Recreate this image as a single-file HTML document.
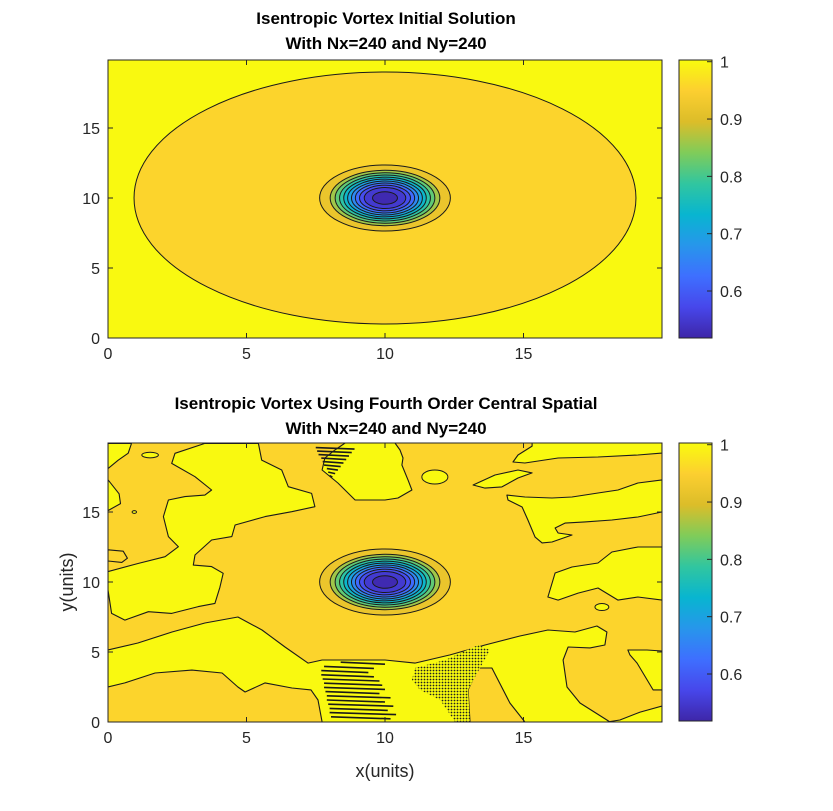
<!DOCTYPE html>
<html><head><meta charset="utf-8"><style>
html,body{margin:0;padding:0;background:#fff;}
svg{display:block;font-family:"Liberation Sans",Arial,sans-serif;}
</style></head><body>
<svg id="fig" width="833" height="811" viewBox="0 0 833 811" xmlns="http://www.w3.org/2000/svg">
<defs>
<linearGradient id="parula" x1="0" y1="1" x2="0" y2="0">
<stop offset="0" stop-color="#3e26a8"/><stop offset="0.111" stop-color="#4747eb"/><stop offset="0.222" stop-color="#3e6fff"/>
<stop offset="0.333" stop-color="#2796eb"/><stop offset="0.444" stop-color="#08b5d0"/><stop offset="0.556" stop-color="#31c69f"/>
<stop offset="0.667" stop-color="#80cc59"/><stop offset="0.778" stop-color="#dcbd29"/><stop offset="0.889" stop-color="#fccf30"/>
<stop offset="1" stop-color="#f9fb0e"/></linearGradient>
<clipPath id="clipTop"><rect x="108" y="60" width="554" height="278"/></clipPath>
<clipPath id="clipBot"><rect x="108" y="443" width="554" height="279"/></clipPath>
<pattern id="dots" width="3" height="3" patternUnits="userSpaceOnUse"><rect width="3" height="3" fill="#f9fb0e"/><circle cx="1.5" cy="1.5" r="0.9" fill="#222"/></pattern>
</defs>
<g id="top"></g>
<g id="bot"></g>
<g id="cbars"></g>
<text x="386" y="24" text-anchor="middle" font-size="17" font-weight="bold" fill="#000">Isentropic Vortex Initial Solution</text>
<text x="386" y="49" text-anchor="middle" font-size="17" font-weight="bold" fill="#000">With Nx=240 and Ny=240</text>
<text x="386" y="409" text-anchor="middle" font-size="17" font-weight="bold" fill="#000">Isentropic Vortex Using Fourth Order Central Spatial</text>
<text x="386" y="434" text-anchor="middle" font-size="17" font-weight="bold" fill="#000">With Nx=240 and Ny=240</text>
<text x="385" y="777" text-anchor="middle" font-size="18" fill="#262626">x(units)</text>
<text x="0" y="0" transform="translate(73,582) rotate(-90)" text-anchor="middle" font-size="18" fill="#262626">y(units)</text>
</svg>
<script>
const xTicks=[0,5,10,15];
const yTicks=[0,5,10,15];
const cbTicks=[0.6,0.7,0.8,0.9,1];
const cMin=0.518, cMax=1.003;
const vortexCenter=[10,10];
const ringRadii=[2.36,1.98,1.80,1.64,1.49,1.35,1.21,1.07,0.92,0.75,0.45];
const ringValues=[0.92,0.86,0.82,0.78,0.74,0.70,0.66,0.62,0.58,0.55,0.525];
const bigRadius=[9.06,9.0];
const baseValue=0.955;
const blobY1=[[3.5,19.9],[5.43,19.9],[5.55,18.71],[6.27,18.0],[6.51,16.81],[7.35,16.33],[7.47,15.38],[6.63,15.02],[5.67,14.67],[4.59,14.07],[4.47,13.24],[3.74,13.0],[3.14,11.93],[3.08,11.21],[3.74,11.1],[4.16,10.62],[4.04,9.62],[3.86,8.47],[3.26,8.24],[2.3,7.76],[1.46,7.88],[0.61,7.28],[0.13,7.76],[0,9.43],[0,10.74],[1.1,11.33],[2.06,11.81],[2.54,12.52],[2.18,13.24],[2.0,14.67],[2.18,15.86],[2.78,16.1],[3.5,16.21],[3.74,16.57],[3.14,17.52],[2.3,18.47],[2.42,19.19]];
const blobCorner=[[0,19.9],[0.85,19.9],[0.73,19.2],[0.37,18.7],[0,18.1]];
const blobLeftStrip=[[0,17.3],[0.4,16.3],[0.45,15.6],[0,15.1]];
const blobBC=[[0,5.14],[1.08,5.64],[2.31,6.43],[3.5,7.07],[4.69,7.5],[5.56,6.57],[6.39,5.36],[7.22,4.21],[7.73,4.43],[10.0,4.43],[11.08,4.21],[12.35,4.79],[13.61,5.5],[14.87,6.14],[15.88,6.57],[16.86,6.43],[17.65,6.86],[18.01,6.43],[17.94,5.5],[17.4,5.29],[16.61,5.36],[16.43,4.43],[16.57,2.5],[17.04,1.36],[18.01,0.14],[18.12,0],[15.05,0],[14.51,1.36],[13.86,3.86],[13.36,3.86],[13.0,2.29],[13.07,0],[7.73,0],[7.58,1.57],[7.33,2.29],[6.64,2.43],[5.67,2.79],[4.95,2.14],[4.69,2.5],[4.12,3.5],[3.03,3.71],[1.7,3.5],[0.61,2.79],[0,2.5]];
const blobRLobe=[[18.77,5.14],[19.46,5.14],[20,5.07],[20,2.29],[19.68,2.29],[19.1,4.21],[18.84,4.79]];
const blobRBottom=[[18.01,0],[18.48,0.14],[19.21,0.71],[20,1.14],[20,0]];
const blobR1=[[15.31,19.71],[14.8,19.07],[14.62,18.57],[15.05,18.5],[16.25,18.86],[17.69,18.93],[19.13,19.07],[20,19.21],[20,19.93],[15.31,19.93]];
const blobR2=[[13.18,16.93],[13.97,17.64],[14.8,18.0],[15.31,17.79],[14.8,17.43],[14.22,16.79],[13.61,16.71]];
const blobR3=[[14.4,16.21],[15.05,16.07],[16.03,16.0],[16.75,16.07],[17.69,16.36],[18.41,16.57],[19.13,17.07],[20,17.29],[20,15.0],[19.13,14.64],[18.19,14.43],[17.22,14.29],[16.5,14.21],[16.14,13.86],[16.25,13.5],[16.75,13.36],[16.03,12.86],[15.67,12.79],[15.42,13.21],[15.16,14.43],[14.95,15.36],[14.44,15.86]];
const blobR4=[[15.88,8.93],[16.14,10.64],[16.75,11.07],[17.69,11.36],[18.19,12.14],[19.13,12.5],[20,12.5],[20,8.71],[19.13,8.93],[18.41,8.71],[17.69,9.57],[16.97,9.21],[16.25,8.71]];
const blobR7=[[8.56,19.93],[10.36,19.93],[10.54,19.43],[10.65,18.86],[10.61,18.36],[10.83,17.29],[10.97,16.57],[10.47,16.0],[10.0,15.86],[8.92,15.86],[8.3,17.07],[7.73,18.0],[7.83,18.86],[8.19,19.43]];
const orangeLobe=[[0,12.3],[0.55,12.2],[0.7,11.7],[0.5,11.4],[0,11.5]];
const islands=[[1.52,19.07,0.3,0.2],[11.8,17.5,0.47,0.5],[17.83,8.21,0.25,0.25],[0.95,15.0,0.08,0.1]];
const dotArea=[[11.08,3.86],[12.17,4.43],[13.36,5.5],[13.79,5.14],[13.43,3.86],[13.0,2.29],[13.07,0],[12.53,0],[11.99,1.57],[11.26,2.29],[10.97,3.0]];
const stripeTopV=[19.6,19.35,19.1,18.85,18.6,18.35,18.1,17.85,17.6];
const stripeTopU1=[7.5,7.55,7.6,7.7,7.75,7.8,7.9,7.95,8.0];
const stripeTopU2=[8.9,8.8,8.7,8.6,8.5,8.4,8.3,8.2,8.1];
const stripeBotV=[4.2,3.9,3.6,3.3,3.0,2.7,2.4,2.1,1.8,1.5,1.2,0.9,0.6,0.3];
const stripeBotU1=[8.4,7.8,7.7,7.7,7.75,7.8,7.8,7.85,7.9,7.9,7.95,8.0,8.0,8.05];
const stripeBotU2=[10.0,9.6,9.4,9.6,9.8,9.9,10.0,9.8,10.2,10.0,10.3,10.1,10.4,10.2];

const NS='http://www.w3.org/2000/svg';
const X0=108, XS=27.7, YS=14;
function xS(u){return X0+u*XS;}
function yTopS(v){return 338-v*YS;}
function yBotS(v){return 722-v*YS;}
const stops=[[0,'#3e26a8'],[0.111,'#4747eb'],[0.222,'#3e6fff'],[0.333,'#2796eb'],[0.444,'#08b5d0'],[0.556,'#31c69f'],[0.667,'#80cc59'],[0.778,'#dcbd29'],[0.889,'#fccf30'],[1,'#f9fb0e']];
function hx(c){return [parseInt(c.substr(1,2),16),parseInt(c.substr(3,2),16),parseInt(c.substr(5,2),16)];}
function cmap(v){let t=(v-cMin)/(cMax-cMin);t=Math.max(0,Math.min(1,t));
 for(let i=1;i<stops.length;i++){if(t<=stops[i][0]){const a=stops[i-1],b=stops[i];const f=(t-a[0])/(b[0]-a[0]);const ca=hx(a[1]),cb=hx(b[1]);
 return 'rgb('+ca.map((c,k)=>Math.round(c+(cb[k]-c)*f)).join(',')+')';}}return stops[stops.length-1][1];}
function mk(tag,attrs,parent){const e=document.createElementNS(NS,tag);for(const k in attrs)e.setAttribute(k,attrs[k]);parent.appendChild(e);return e;}
const YEL=cmap(1.0), ORA=cmap(baseValue);

function poly(g,pts,yS,fill,name){
 const d=pts.map((p,i)=>(i?'L':'M')+xS(p[0]).toFixed(1)+','+yS(p[1]).toFixed(1)).join('')+'Z';
 const e=mk('path',{d:d,fill:fill,stroke:'#1a1a1a','stroke-width':1.1,'stroke-linejoin':'round'},g);
 
 
 return e;}
function vortex(g,yS){
 for(let i=0;i<ringRadii.length;i++){
  const e=mk('ellipse',{cx:xS(vortexCenter[0]),cy:yS(vortexCenter[1]),rx:ringRadii[i]*XS,ry:ringRadii[i]*YS,fill:cmap(ringValues[i]),stroke:'#1a1a1a','stroke-width':1},g);
  
  
 }}
function axes(g,top,yS,clip){
 const frame=mk('rect',{x:108,y:top,width:554,height:(yS===yTopS?278:279),fill:'none',stroke:'#262626','stroke-width':1},g);
 
 
 const bottom=yS(0);
 xTicks.forEach(t=>{const x=xS(t);
  mk('line',{x1:x,y1:bottom,x2:x,y2:bottom-5,stroke:'#262626'},g);
  mk('line',{x1:x,y1:top,x2:x,y2:top+5,stroke:'#262626'},g);
  const tx=mk('text',{x:x,y:bottom+21,'text-anchor':'middle','font-size':16,fill:'#262626'},g);tx.textContent=t;
  
  });
 yTicks.forEach(t=>{const y=yS(t);
  mk('line',{x1:108,y1:y,x2:113,y2:y,stroke:'#262626'},g);
  mk('line',{x1:662,y1:y,x2:657,y2:y,stroke:'#262626'},g);
  const tx=mk('text',{x:100,y:y+6,'text-anchor':'end','font-size':16,fill:'#262626'},g);tx.textContent=t;
  
  });
}
// top plot
const gT=document.getElementById('top');
const cT=mk('g',{'clip-path':'url(#clipTop)'},gT);
mk('rect',{x:108,y:60,width:554,height:278,fill:YEL},cT);
const big=mk('ellipse',{cx:xS(10),cy:yTopS(10),rx:bigRadius[0]*XS,ry:bigRadius[1]*YS,fill:ORA,stroke:'#1a1a1a','stroke-width':1},cT);


vortex(cT,yTopS);
axes(gT,60,yTopS);
// bottom plot
const gB=document.getElementById('bot');
const cB=mk('g',{'clip-path':'url(#clipBot)'},gB);
mk('rect',{x:108,y:443,width:554,height:279,fill:ORA},cB);
[[blobY1,'yellow-region-left'],[blobCorner,'yellow-corner'],[blobLeftStrip,'yellow-left-strip'],[blobBC,'yellow-region-bottom'],[blobRLobe,'yellow-right-lobe'],[blobRBottom,'yellow-bottom-right'],[blobR1,'yellow-top-right'],[blobR2,'yellow-island'],[blobR3,'yellow-region-right-upper'],[blobR4,'yellow-region-right-mid'],[blobR7,'yellow-region-top-center']].forEach(b=>poly(cB,b[0],yBotS,YEL,b[1]));
poly(cB,orangeLobe,yBotS,ORA,'orange-lobe');
islands.forEach(p=>{const e=mk('ellipse',{cx:xS(p[0]),cy:yBotS(p[1]),rx:p[2]*XS,ry:p[3]*YS,fill:YEL,stroke:'#1a1a1a','stroke-width':1},cB);
 
 });
const dp=poly(cB,dotArea,yBotS,'url(#dots)','oscillation-dots');dp.setAttribute('stroke','none');
stripeTopV.forEach((v,i)=>{const e=mk('line',{x1:xS(stripeTopU1[i]),y1:yBotS(v),x2:xS(stripeTopU2[i]),y2:yBotS(v)+1.5,stroke:'#1a1a1a','stroke-width':1.6},cB);
 
 });
stripeBotV.forEach((v,i)=>{const e=mk('line',{x1:xS(stripeBotU1[i]),y1:yBotS(v)-1,x2:xS(stripeBotU2[i]),y2:yBotS(v)+1,stroke:'#1a1a1a','stroke-width':1.6},cB);
 
 });
vortex(cB,yBotS);
axes(gB,443,yBotS);
// colorbars
const gC=document.getElementById('cbars');
[[60,338],[443,721]].forEach((r,k)=>{
 const h=r[1]-r[0];
 const cb=mk('rect',{x:679,y:r[0],width:33,height:h,fill:'url(#parula)',stroke:'#262626','stroke-width':1},gC);
 
 
 cbTicks.forEach(t=>{const y=r[1]-(t-cMin)/(cMax-cMin)*h;
  mk('line',{x1:712,y1:y,x2:707,y2:y,stroke:'#262626'},gC);
  const tx=mk('text',{x:720,y:y+6,'font-size':16,fill:'#262626'},gC);tx.textContent=t;
  
  });
});
</script>
</body></html>
